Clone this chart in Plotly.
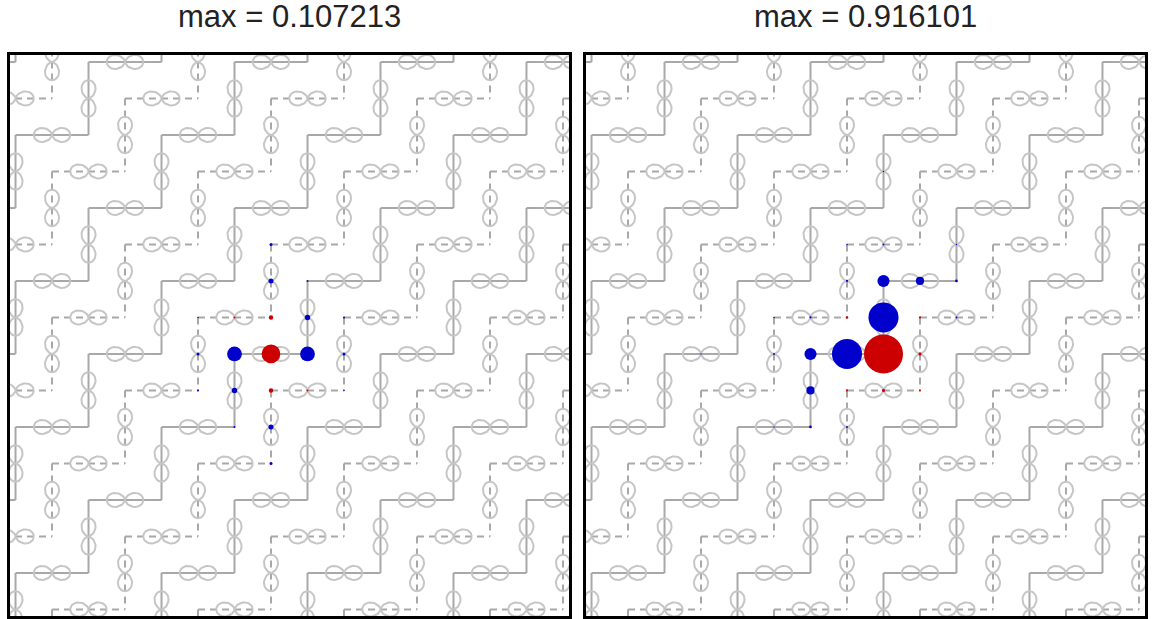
import numpy as np
import plotly.graph_objects as go

# ---------------- data ----------------
N = 16  # lattice sites per side (periodic)

titles = ["max = 0.107213", "max = 0.916101"]

# left panel: site column, site row, signed amplitude (red > 0, blue < 0), relative to max
left_cols = [7, 6, 8, 7, 7, 8, 6, 7, 7, 6, 8, 7, 7, 8, 6, 5, 9, 5, 9, 9, 5]
left_rows = [8, 8, 8, 7, 9, 7, 9, 6, 10, 7, 9, 5, 11, 6, 10, 8, 8, 7, 9, 7, 9]
left_amp = [1.0, -0.79, -0.79, 0.24, 0.24, -0.29, -0.29, -0.27, -0.27, 0.11, 0.11,
            -0.16, -0.16, -0.11, -0.11, -0.16, -0.16, -0.08, -0.08, -0.11, -0.11]

# right panel
right_cols = [8, 8, 7, 8, 6, 9, 6, 10, 6, 7, 9, 7, 9, 8, 9, 6, 7, 5, 7, 8, 5, 10, 7, 5, 10, 8, 3]
right_rows = [8, 7, 8, 6, 8, 6, 9, 6, 10, 7, 7, 9, 8, 9, 9, 7, 6, 7, 5, 5, 8, 7, 10, 10, 5, 3, 8]
right_amp = [1.0, -0.77, -0.77, -0.31, -0.31, -0.21, -0.21, -0.07, -0.07, 0.065, 0.055, 0.055,
             0.08, 0.08, 0.05, -0.055, -0.055, -0.04, -0.04, -0.05, -0.05, -0.05, -0.05,
             -0.04, -0.04, -0.04, -0.04]

max_diam = [18.7, 39.0]  # marker diameter (px) of the largest amplitude in each panel

# ---------------- styles ----------------
BOND_COLOR = "#a8a8a8"
LOBE_COLOR = "#c6c6c6"
RED = "#cc0000"
BLUE = "#0000cc"


def lattice_traces(xa, ya):
    sx, sy, dx, dy, lx, ly = [], [], [], [], [], []
    th = np.linspace(0, 2 * np.pi, 81)
    r = 0.5 * np.cos(th) ** 2
    for i in range(-1, N + 1):
        for j in range(-1, N + 1):
            if (i + j) % 2 == 0:
                continue
            m = (i + j) % 4
            solid = m == 3
            horiz = (i % 2 == 1) if solid else (i % 2 == 0)
            if horiz:
                seg = ([i - 1, i + 1], [j, j])
                px = i + r * np.cos(th)
                py = j + r * np.sin(th)
            else:
                seg = ([i, i], [j - 1, j + 1])
                px = i + r * np.sin(th)
                py = j + r * np.cos(th)
            if solid:
                sx += seg[0] + [None]
                sy += seg[1] + [None]
            else:
                dx += seg[0] + [None]
                dy += seg[1] + [None]
            lx += list(px) + [None]
            ly += list(py) + [None]
    return [
        go.Scatter(x=sx, y=sy, mode="lines", line=dict(color=BOND_COLOR, width=2),
                   xaxis=xa, yaxis=ya, hoverinfo="skip"),
        go.Scatter(x=dx, y=dy, mode="lines", line=dict(color=BOND_COLOR, width=2, dash="7px,5px"),
                   xaxis=xa, yaxis=ya, hoverinfo="skip"),
        go.Scatter(x=lx, y=ly, mode="lines", line=dict(color=LOBE_COLOR, width=2),
                   xaxis=xa, yaxis=ya, hoverinfo="skip"),
    ]


def site_trace(cols, rows, amp, dmax, xa, ya):
    a = np.array(amp, dtype=float)
    amax = np.abs(a).max()
    sizes = np.maximum(dmax * np.abs(a) / amax, 1.5)
    colors = [RED if v > 0 else BLUE for v in a]
    return go.Scatter(x=cols, y=rows, mode="markers",
                      marker=dict(size=sizes, color=colors, line=dict(width=0), opacity=1),
                      xaxis=xa, yaxis=ya, hoverinfo="skip")


fig = go.Figure()
for t in lattice_traces("x", "y"):
    fig.add_trace(t)
fig.add_trace(site_trace(left_cols, left_rows, left_amp, max_diam[0], "x", "y"))
for t in lattice_traces("x2", "y2"):
    fig.add_trace(t)
fig.add_trace(site_trace(right_cols, right_rows, right_amp, max_diam[1], "x2", "y2"))

W, H = 1152, 619
xdom_l = [9.5 / W, 569 / W]
xdom_r = [585.5 / W, 1145 / W]
ydom = [3 / H, (H - 55) / H]
xr = [-0.165, N - 1 + 0.165]
yr = [N - 1 + 0.18, -0.19]

ax_common = dict(showgrid=False, zeroline=False, showticklabels=False, ticks="",
                 showline=True, mirror=True, linecolor="black", linewidth=3)

fig.update_layout(
    width=W, height=H,
    margin=dict(l=0, r=0, t=0, b=0),
    paper_bgcolor="white", plot_bgcolor="white",
    showlegend=False,
    xaxis=dict(domain=xdom_l, range=xr, anchor="y", **ax_common),
    yaxis=dict(domain=ydom, range=yr, anchor="x", **ax_common),
    xaxis2=dict(domain=xdom_r, range=xr, anchor="y2", **ax_common),
    yaxis2=dict(domain=ydom, range=yr, anchor="x2", **ax_common),
    annotations=[
        dict(text=titles[0], x=sum(xdom_l) / 2, y=1 - 17 / H, xref="paper", yref="paper",
             xanchor="center", yanchor="middle", showarrow=False,
             font=dict(family="Liberation Sans, Arial, sans-serif", size=31, color="#222222")),
        dict(text=titles[1], x=sum(xdom_r) / 2, y=1 - 17 / H, xref="paper", yref="paper",
             xanchor="center", yanchor="middle", showarrow=False,
             font=dict(family="Liberation Sans, Arial, sans-serif", size=31, color="#222222")),
    ],
)

fig.write_html("out.html")
